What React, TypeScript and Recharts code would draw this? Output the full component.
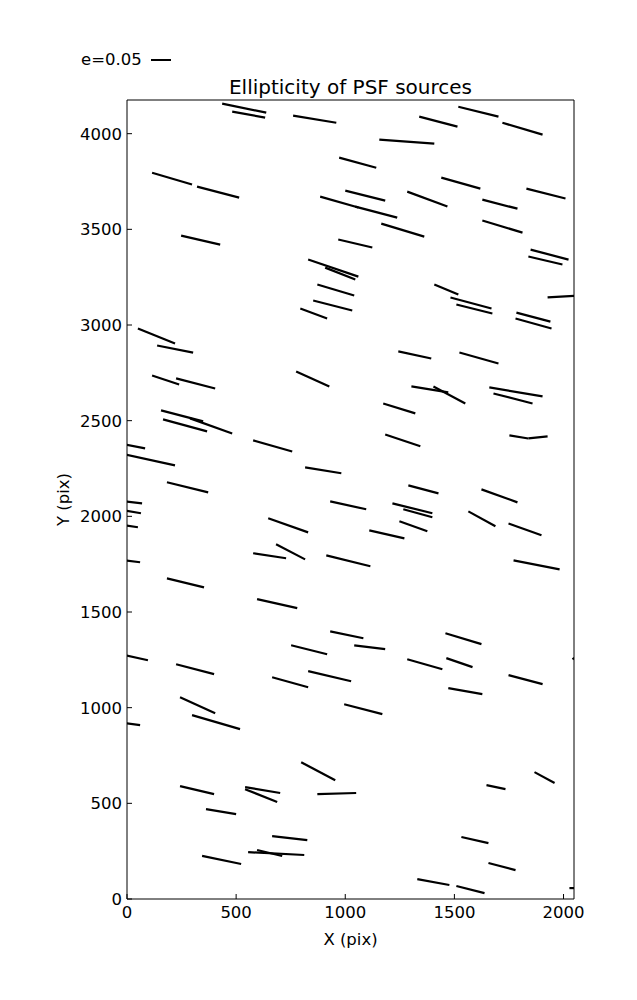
import { ScatterChart, Scatter, XAxis, YAxis, Label } from "recharts";

// each whisker: [x1, y1, x2, y2] in detector pixels
type Seg = [number, number, number, number];

const xTicks = [0, 500, 1000, 1500, 2000];
const yTicks = [0, 500, 1000, 1500, 2000, 2500, 3000, 3500, 4000];

const whiskersTop: Seg[] = [
  [436, 4157, 638, 4110],
  [482, 4115, 633, 4084],
  [761, 4094, 959, 4057],
  [1339, 4089, 1514, 4037],
  [1518, 4141, 1702, 4089],
  [1720, 4057, 1904, 3995],
  [1156, 3969, 1408, 3948],
  [115, 3796, 298, 3734],
  [321, 3723, 514, 3666],
  [972, 3875, 1142, 3822],
  [1440, 3770, 1619, 3713],
  [1830, 3713, 2009, 3661],
  [1000, 3702, 1183, 3650],
  [1284, 3697, 1468, 3619],
  [885, 3671, 1060, 3614],
  [1046, 3619, 1238, 3561],
  [1628, 3655, 1789, 3608],
  [1165, 3530, 1362, 3462],
  [1628, 3546, 1812, 3483],
  [248, 3467, 427, 3420],
  [968, 3447, 1124, 3405],
  [1849, 3394, 2023, 3342],
  [1839, 3358, 1995, 3316],
  [830, 3342, 1060, 3253],
  [908, 3300, 1046, 3238],
  [872, 3212, 1041, 3154],
  [1408, 3212, 1518, 3159],
  [1482, 3144, 1670, 3086],
  [1509, 3107, 1674, 3060],
  [1927, 3144, 2070, 3154],
  [853, 3128, 1032, 3076],
  [794, 3086, 917, 3034],
];

const whiskersUpper: Seg[] = [
  [50, 2982, 220, 2903],
  [138, 2893, 303, 2856],
  [1784, 3065, 1940, 3018],
  [1780, 3034, 1945, 2982],
  [1243, 2862, 1394, 2825],
  [1523, 2856, 1702, 2799],
  [775, 2757, 927, 2679],
  [115, 2736, 239, 2689],
  [225, 2721, 404, 2668],
  [1303, 2679, 1472, 2648],
  [1404, 2679, 1550, 2590],
  [1660, 2674, 1904, 2627],
  [1679, 2642, 1858, 2590],
  [1174, 2590, 1321, 2538],
  [156, 2554, 349, 2496],
  [165, 2507, 367, 2444],
  [289, 2512, 482, 2433],
  [1752, 2423, 1839, 2407],
  [1839, 2407, 1927, 2418],
  [1183, 2428, 1344, 2366],
  [-10, 2376, 83, 2355],
  [578, 2397, 757, 2339],
  [-10, 2324, 220, 2266],
  [816, 2256, 982, 2225],
  [183, 2178, 372, 2125],
  [1289, 2162, 1427, 2120],
  [1624, 2141, 1789, 2073],
  [-10, 2078, 69, 2068],
  [-10, 2031, 64, 2016],
  [931, 2078, 1096, 2037],
  [1216, 2068, 1399, 2016],
  [1266, 2037, 1399, 1995],
  [1564, 2026, 1688, 1948],
];

const whiskersLower: Seg[] = [
  [-10, 1953, 50, 1943],
  [-10, 1770, 60, 1760],
  [183, 1676, 353, 1629],
  [647, 1990, 830, 1916],
  [683, 1854, 816, 1775],
  [578, 1807, 729, 1781],
  [596, 1567, 780, 1520],
  [-10, 1274, 96, 1248],
  [225, 1227, 399, 1175],
  [665, 1159, 830, 1107],
  [243, 1055, 404, 971],
  [1248, 1974, 1376, 1922],
  [1110, 1927, 1271, 1885],
  [913, 1796, 1115, 1739],
  [931, 1399, 1083, 1363],
  [752, 1326, 917, 1279],
  [1041, 1326, 1183, 1306],
  [1284, 1253, 1445, 1201],
  [830, 1191, 1027, 1138],
  [1748, 1963, 1899, 1901],
  [1771, 1770, 1982, 1723],
  [1459, 1389, 1624, 1332],
  [1463, 1259, 1583, 1212],
  [1472, 1102, 1628, 1071],
  [1748, 1170, 1904, 1123],
  [2041, 1253, 2070, 1275],
  [995, 1018, 1170, 966],
];

const whiskersBottom: Seg[] = [
  [-10, 919, 60, 909],
  [298, 961, 518, 888],
  [798, 715, 954, 621],
  [872, 548, 1050, 554],
  [243, 590, 399, 548],
  [541, 585, 702, 554],
  [541, 574, 688, 507],
  [362, 470, 500, 444],
  [665, 329, 826, 308],
  [344, 225, 523, 183],
  [555, 245, 812, 230],
  [596, 256, 711, 225],
  [1330, 104, 1477, 73],
  [1647, 595, 1734, 574],
  [1867, 663, 1959, 606],
  [1532, 324, 1656, 292],
  [1656, 188, 1780, 151],
  [1509, 68, 1638, 31],
  [2027, 57, 2070, 57],
];

const allWhiskers = [...whiskersTop, ...whiskersUpper, ...whiskersLower, ...whiskersBottom];

const font = "'DejaVu Sans', sans-serif";
const tickStyle = { fill: "#000", fontSize: 16.5, fontFamily: font };

export default function App() {
  return (
    <div style={{ position: "absolute", left: 0, top: 0, width: 637, height: 1000, background: "#fff", fontFamily: font }}>
      <ScatterChart width={637} height={1000} margin={{ top: 99, right: 62, bottom: 55, left: 57 }}>
        <XAxis
          xAxisId="b"
          type="number"
          dataKey="x"
          domain={[0, 2048]}
          ticks={xTicks}
          interval={0}
          allowDataOverflow
          height={46}
          stroke="#000"
          tickSize={-5}
          tickMargin={12}
          tick={tickStyle}
        >
          <Label value="X (pix)" position="insideBottom" offset={0} fill="#000" fontSize={16.5} fontFamily={font} />
        </XAxis>
        <XAxis
          xAxisId="t"
          orientation="top"
          type="number"
          domain={[0, 2048]}
          ticks={xTicks}
          interval={0}
          allowDataOverflow
          height={1}
          stroke="#000"
          tickSize={-5}
          tick={false}
        />
        <YAxis
          yAxisId="l"
          type="number"
          dataKey="y"
          domain={[0, 4176]}
          ticks={yTicks}
          interval={0}
          allowDataOverflow
          width={70}
          stroke="#000"
          tickSize={-5}
          tickMargin={10}
          tick={tickStyle}
        >
          <Label
            value="Y (pix)"
            position="insideLeft"
            angle={-90}
            offset={6}
            fill="#000"
            fontSize={16.5}
            fontFamily={font}
            style={{ textAnchor: "middle" }}
          />
        </YAxis>
        <YAxis
          yAxisId="r"
          orientation="right"
          type="number"
          domain={[0, 4176]}
          ticks={yTicks}
          interval={0}
          allowDataOverflow
          width={1}
          stroke="#000"
          tickSize={-5}
          tick={false}
        />
        {allWhiskers.map((s, i) => (
          <Scatter
            key={i}
            xAxisId="b"
            yAxisId="l"
            data={[
              { x: s[0], y: s[1] },
              { x: s[2], y: s[3] },
            ]}
            stroke="#000"
            strokeWidth={2.2}
            line={{ stroke: "#000", strokeWidth: 2.2 }}
            shape={() => <g />}
            isAnimationActive={false}
          />
        ))}
      </ScatterChart>
      <div style={{ position: "absolute", left: 81, top: 50, fontSize: 16.5, lineHeight: "20px", color: "#000" }}>e=0.05</div>
      <div style={{ position: "absolute", left: 151, top: 59, width: 20, height: 2, background: "#000" }} />
      <div
        style={{
          position: "absolute",
          left: 127,
          width: 447,
          top: 75,
          textAlign: "center",
          fontSize: 20,
          lineHeight: "24px",
          color: "#000",
        }}
      >
        Ellipticity of PSF sources
      </div>
    </div>
  );
}
